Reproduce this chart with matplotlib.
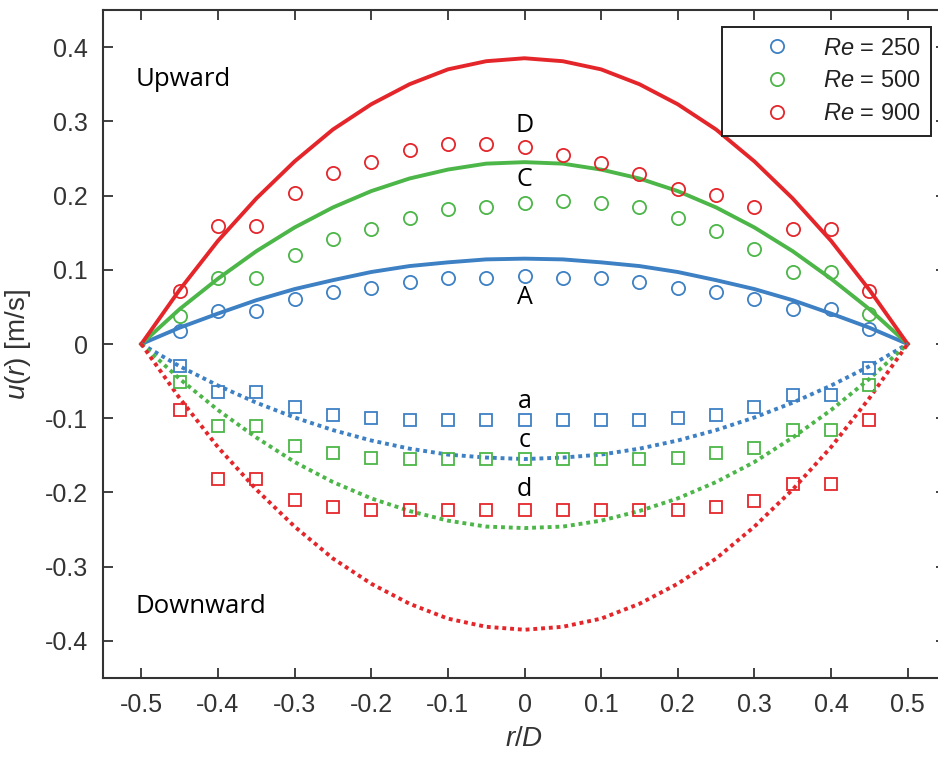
import matplotlib
matplotlib.use("Agg")
import matplotlib.pyplot as plt

plt.rcParams['font.family'] = ['Liberation Sans', 'DejaVu Sans']
plt.rcParams['mathtext.fontset'] = 'custom'
plt.rcParams['mathtext.it'] = 'Liberation Sans:italic'
plt.rcParams['mathtext.rm'] = 'Liberation Sans'

# model profiles (lines), r/D every 0.05
x_line = [-0.5, -0.45, -0.4, -0.35, -0.3, -0.25, -0.2, -0.15, -0.1, -0.05, 0.0,
          0.05, 0.1, 0.15, 0.2, 0.25, 0.3, 0.35, 0.4, 0.45, 0.5]
up_250 = [0, 0.022, 0.041, 0.059, 0.074, 0.086, 0.097, 0.105, 0.110, 0.114, 0.115,
          0.114, 0.110, 0.105, 0.097, 0.086, 0.074, 0.059, 0.041, 0.022, 0]
up_500 = [0, 0.047, 0.088, 0.125, 0.157, 0.184, 0.206, 0.223, 0.235, 0.243, 0.245,
          0.243, 0.235, 0.223, 0.206, 0.184, 0.157, 0.125, 0.088, 0.047, 0]
up_900 = [0, 0.073, 0.139, 0.196, 0.246, 0.289, 0.323, 0.350, 0.370, 0.381, 0.385,
          0.381, 0.370, 0.350, 0.323, 0.289, 0.246, 0.196, 0.139, 0.073, 0]
down_250 = [0, -0.030, -0.056, -0.079, -0.099, -0.116, -0.130, -0.141, -0.149, -0.153, -0.155,
            -0.153, -0.149, -0.141, -0.130, -0.116, -0.099, -0.079, -0.056, -0.030, 0]
down_500 = [0, -0.047, -0.089, -0.126, -0.159, -0.186, -0.208, -0.225, -0.238, -0.246, -0.248,
            -0.246, -0.238, -0.225, -0.208, -0.186, -0.159, -0.126, -0.089, -0.047, 0]
down_900 = [0, -0.073, -0.139, -0.196, -0.246, -0.289, -0.323, -0.350, -0.370, -0.381, -0.385,
            -0.381, -0.370, -0.350, -0.323, -0.289, -0.246, -0.196, -0.139, -0.073, 0]

# measured points
x_pts = [-0.45, -0.4, -0.35, -0.3, -0.25, -0.2, -0.15, -0.1, -0.05, 0.0,
         0.05, 0.1, 0.15, 0.2, 0.25, 0.3, 0.35, 0.4, 0.45]
up_250_pts = [0.017, 0.044, 0.044, 0.060, 0.070, 0.076, 0.084, 0.089, 0.089, 0.091,
              0.089, 0.089, 0.084, 0.076, 0.070, 0.060, 0.047, 0.047, 0.020]
up_500_pts = [0.038, 0.089, 0.089, 0.120, 0.141, 0.155, 0.170, 0.182, 0.185, 0.190,
              0.192, 0.190, 0.185, 0.170, 0.152, 0.128, 0.097, 0.097, 0.040]
up_900_pts = [0.072, 0.159, 0.159, 0.203, 0.230, 0.245, 0.261, 0.269, 0.269, 0.266,
              0.254, 0.244, 0.229, 0.209, 0.201, 0.185, 0.155, 0.155, 0.072]
down_250_pts = [-0.029, -0.064, -0.064, -0.085, -0.095, -0.100, -0.103, -0.103, -0.103, -0.103,
                -0.103, -0.103, -0.103, -0.100, -0.095, -0.085, -0.069, -0.069, -0.032]
down_500_pts = [-0.051, -0.111, -0.111, -0.137, -0.147, -0.153, -0.155, -0.155, -0.155, -0.155,
                -0.155, -0.155, -0.155, -0.153, -0.147, -0.140, -0.116, -0.116, -0.055]
down_900_pts = [-0.089, -0.182, -0.182, -0.210, -0.220, -0.223, -0.223, -0.223, -0.223, -0.223,
                -0.223, -0.223, -0.223, -0.223, -0.220, -0.212, -0.189, -0.189, -0.103]

blue = '#3d80c4'
green = '#4cb648'
red = '#e4262b'

fig = plt.figure(figsize=(9.38, 7.6), dpi=100)
ax = fig.add_axes([103 / 938, 82 / 760, 843 / 938, 668 / 760])

lw = 2.8
ax.plot(x_line, up_250, color=blue, lw=lw)
ax.plot(x_line, up_500, color=green, lw=lw)
ax.plot(x_line, up_900, color=red, lw=lw)
ax.plot(x_line, down_250, color=blue, lw=lw, ls=(0, (1, 1)))
ax.plot(x_line, down_500, color=green, lw=lw, ls=(0, (1, 1)))
ax.plot(x_line, down_900, color=red, lw=lw, ls=(0, (1, 1)))

ms = 9.5
for ys, c, lab in [(up_250_pts, blue, r'$\mathit{Re}$ = 250'),
                   (up_500_pts, green, r'$\mathit{Re}$ = 500'),
                   (up_900_pts, red, r'$\mathit{Re}$ = 900')]:
    ax.plot(x_pts, ys, 'o', ms=ms, mfc='none', mec=c, mew=1.3, label=lab)
for ys, c in [(down_250_pts, blue), (down_500_pts, green), (down_900_pts, red)]:
    ax.plot(x_pts, ys, 's', ms=8.5, mfc='none', mec=c, mew=1.3)

tfont = dict(family=['Open Sans', 'DejaVu Sans'], fontsize=18, ha='center', va='center')
ax.text(0, 0.295, 'D', **tfont)
ax.text(0, 0.222, 'C', **tfont)
ax.text(0, 0.062, 'A', **tfont)
ax.text(0, -0.077, 'a', **tfont)
ax.text(0, -0.130, 'c', **tfont)
ax.text(0, -0.196, 'd', **tfont)
ax.text(-0.507, 0.357, 'Upward', family=['Open Sans', 'DejaVu Sans'], fontsize=18.5, va='center')
ax.text(-0.507, -0.353, 'Downward', family=['Open Sans', 'DejaVu Sans'], fontsize=18.5, va='center')

ax.set_xlim(-0.55, 0.55)
ax.set_ylim(-0.45, 0.45)
ax.set_xticks([-0.5, -0.4, -0.3, -0.2, -0.1, 0, 0.1, 0.2, 0.3, 0.4, 0.5])
ax.set_xticklabels(['-0.5', '-0.4', '-0.3', '-0.2', '-0.1', '0', '0.1', '0.2', '0.3', '0.4', '0.5'])
ax.set_yticks([-0.4, -0.3, -0.2, -0.1, 0, 0.1, 0.2, 0.3, 0.4])
ax.set_yticklabels(['-0.4', '-0.3', '-0.2', '-0.1', '0', '0.1', '0.2', '0.3', '0.4'])
ax.tick_params(direction='in', length=7, width=1.3, labelsize=18, top=True, right=True,
               color='#333333', labelcolor='#333333', pad=11)
for s in ax.spines.values():
    s.set_linewidth(1.5)
    s.set_color('#333333')

ax.set_xlabel(r'$\mathit{r/D}$', fontsize=20, labelpad=6, color='#333333')
ax.set_ylabel(r'$\mathit{u}$($\mathit{r}$) [m/s]', fontsize=20, labelpad=8, color='#333333')

leg = ax.legend(loc='upper right', bbox_to_anchor=(931 / 938, 1 - 27 / 760),
                bbox_transform=fig.transFigure, borderaxespad=0, fancybox=False,
                framealpha=1, edgecolor='#222222', fontsize=17, handletextpad=0.1,
                borderpad=0.45, labelspacing=0.45, handlelength=3.7)
leg.get_frame().set_linewidth(1.4)
for t in leg.get_texts():
    t.set_color('#222222')

fig.savefig('out.png', dpi=100)
